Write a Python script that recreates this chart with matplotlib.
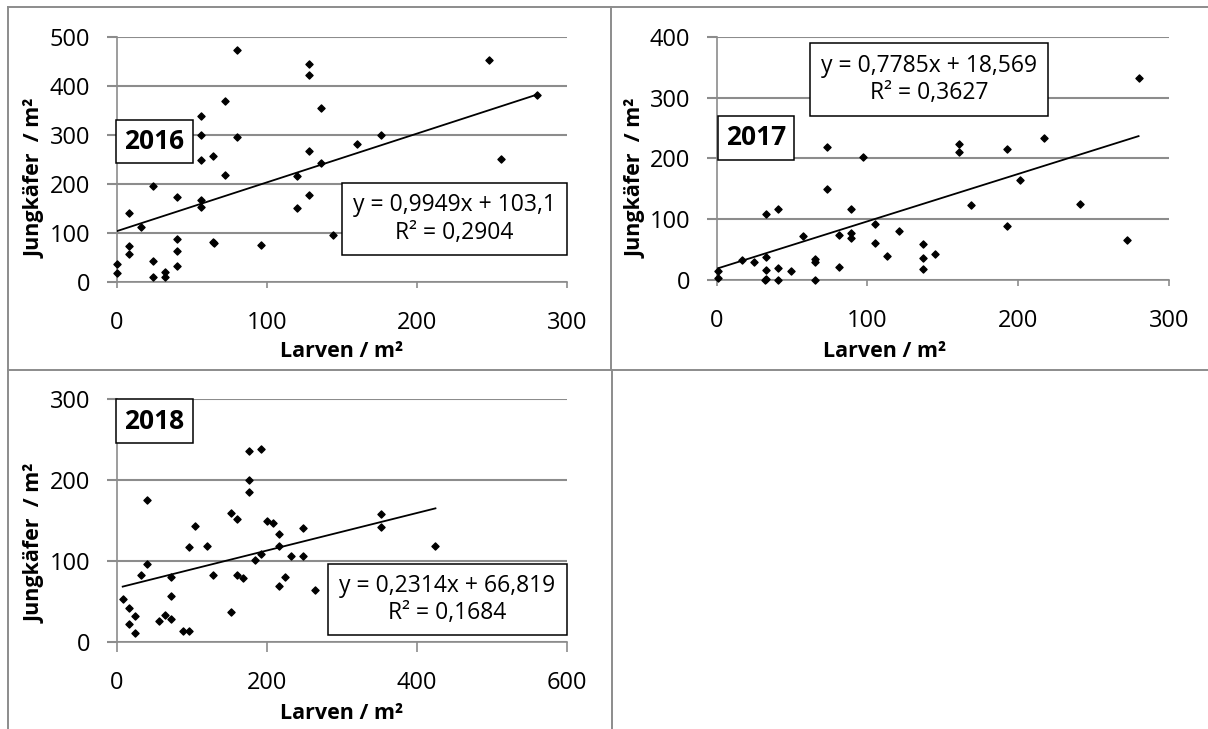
import matplotlib
matplotlib.use("Agg")
import matplotlib.pyplot as plt
from matplotlib.lines import Line2D
from matplotlib.patches import Rectangle
import numpy as np

# --- data ---
larven_2016 = [0, 0, 8, 8, 8, 16, 24, 24, 24, 32, 32, 40, 40, 40, 40, 56, 56, 56, 56, 56,
               64, 64, 65, 72, 72, 80, 80, 96, 120, 120, 128, 128, 128, 128, 136, 136, 144,
               160, 176, 248, 256, 280]
kaefer_2016 = [17, 37, 141, 73, 57, 112, 196, 43, 9, 20, 10, 173, 88, 63, 33, 339, 300, 248, 167, 153,
               256, 80, 79, 369, 218, 472, 296, 75, 216, 151, 444, 422, 267, 176, 355, 242, 95,
               281, 299, 452, 250, 382]

larven_2017 = [1, 1, 17, 25, 33, 33, 33, 32, 33, 41, 41, 41, 49, 57, 65, 65, 65, 73, 73, 81, 81,
               89, 89, 89, 97, 105, 105, 113, 121, 137, 137, 137, 145, 161, 161, 169, 193, 193,
               201, 217, 241, 272, 280]
kaefer_2017 = [14, 4, 33, 30, 109, 37, 16, 0, 1, 117, 19, 0, 15, 73, 35, 30, 0, 219, 150, 74, 21,
               117, 78, 69, 202, 92, 61, 40, 80, 60, 36, 18, 43, 223, 210, 124, 216, 89,
               165, 234, 125, 66, 332]

larven_2018 = [8, 16, 16, 24, 24, 32, 40, 40, 56, 64, 72, 72, 72, 88, 96, 96, 104, 120, 128, 152,
               152, 160, 160, 168, 176, 176, 176, 184, 192, 192, 200, 208, 216, 216, 216, 224,
               232, 248, 248, 264, 352, 352, 425]
kaefer_2018 = [54, 42, 22, 32, 11, 83, 175, 97, 26, 34, 80, 57, 29, 14, 117, 14, 144, 119, 83, 37,
               160, 152, 83, 79, 236, 200, 185, 102, 238, 109, 150, 147, 133, 119, 70, 81,
               107, 141, 107, 65, 158, 142, 119]

slopes = [0.9949, 0.7785, 0.2314]
intercepts = [103.1, 18.569, 66.819]
equations = ["y = 0,9949x + 103,1\nR² = 0,2904",
             "y = 0,7785x + 18,569\nR² = 0,3627",
             "y = 0,2314x + 66,819\nR² = 0,1684"]
years = ["2016", "2017", "2018"]

W, H = 1208, 729
plt.rcParams['font.family'] = ['Open Sans', 'DejaVu Sans']
fig = plt.figure(figsize=(W / 100, H / 100), dpi=100)
fig.patch.set_facecolor('white')
grey = '#8c8c8c'


def px_rect(l, t, r, b):
    return [l / W, 1 - b / H, (r - l) / W, (b - t) / H]


def fig_line(x0, y0, x1, y1):
    fig.add_artist(Line2D([x0 / W, x1 / W], [1 - y0 / H, 1 - y1 / H], color=grey, lw=1.4,
                          transform=fig.transFigure))


def fig_box(l, t, r, b, text, size, weight='normal'):
    fig.add_artist(Rectangle((l / W, 1 - b / H), (r - l) / W, (b - t) / H, fill=True,
                             facecolor='white', edgecolor='black', lw=1.1,
                             transform=fig.transFigure, zorder=5))
    fig.text((l + r) / 2 / W, 1 - (t + b) / 2 / H, text, ha='center', va='center',
             fontsize=size, fontweight=weight, linespacing=1.2, zorder=6)


# panel borders
fig_line(8, 6.7, 1208, 6.7)
fig_line(8.3, 6.7, 8.3, 729)
fig_line(611, 6.7, 611, 369.7)
fig_line(612.3, 369.7, 612.3, 729)
fig_line(8, 369.7, 1208, 369.7)

panels = [
    dict(x=larven_2016, y=kaefer_2016, rect=(116.7, 36.7, 566.7, 281.7), ylim=500, ystep=100,
         xlim=300, xstep=100, xtick=4, eqbox=(341.7, 183, 567.3, 255), yearbox=(116.3, 120, 192.7, 163),
         ylab=(-0.159, 0.42), xlab=(0.5, -0.243)),
    dict(x=larven_2017, y=kaefer_2017, rect=(716.7, 36.7, 1168.7, 280), ylim=400, ystep=100,
         xlim=300, xstep=100, xtick=4, eqbox=(810, 42.7, 1047.7, 116), yearbox=(717.7, 115.7, 794.3, 159.7),
         ylab=(-0.154, 0.42), xlab=(0.372, -0.25)),
    dict(x=larven_2018, y=kaefer_2018, rect=(116.7, 399, 566.7, 642.3), ylim=300, ystep=100,
         xlim=600, xstep=200, xtick=7, eqbox=(327.7, 564, 567.3, 635), yearbox=(116.3, 399, 192.7, 443.3),
         ylab=(-0.159, 0.405), xlab=(0.5, -0.25)),
]

for i, p in enumerate(panels):
    ax = fig.add_axes(px_rect(*p['rect']))
    ax.set_xlim(0, p['xlim'])
    ax.set_ylim(0, p['ylim'])
    ax.set_xticks(np.arange(0, p['xlim'] + 1, p['xstep']))
    ax.set_yticks(np.arange(0, p['ylim'] + 1, p['ystep']))
    ax.grid(axis='y', color=grey, lw=1.5)
    ax.set_axisbelow(True)
    for s in ['top', 'right']:
        ax.spines[s].set_visible(False)
    for s in ['left', 'bottom']:
        ax.spines[s].set_color(grey)
        ax.spines[s].set_linewidth(1.2)
    ax.tick_params(axis='y', direction='out', length=7, width=1.5, color=grey, pad=12,
                   labelsize=17, labelcolor='black')
    ax.tick_params(axis='x', direction='out', length=p['xtick'], width=1.2, color=grey,
                   pad=17 if p['xtick'] == 4 else 14, labelsize=17, labelcolor='black')

    ax.scatter(p['x'], p['y'], marker='D', s=13, color='black', zorder=3, clip_on=False)
    xs = np.array([min(p['x']), max(p['x'])])
    ax.plot(xs, slopes[i] * xs + intercepts[i], color='black', lw=1.3, zorder=4)

    ax.set_ylabel("Jungkäfer  / m²", fontsize=15.5, fontweight='bold')
    ax.yaxis.set_label_coords(*p['ylab'])
    ax.set_xlabel("Larven / m²", fontsize=15.5, fontweight='bold')
    ax.xaxis.set_label_coords(*p['xlab'])

    fig_box(*p['eqbox'], equations[i], 16.5)
    fig_box(*p['yearbox'], years[i], 19, 'bold')

fig.savefig("out.png", dpi=100)
